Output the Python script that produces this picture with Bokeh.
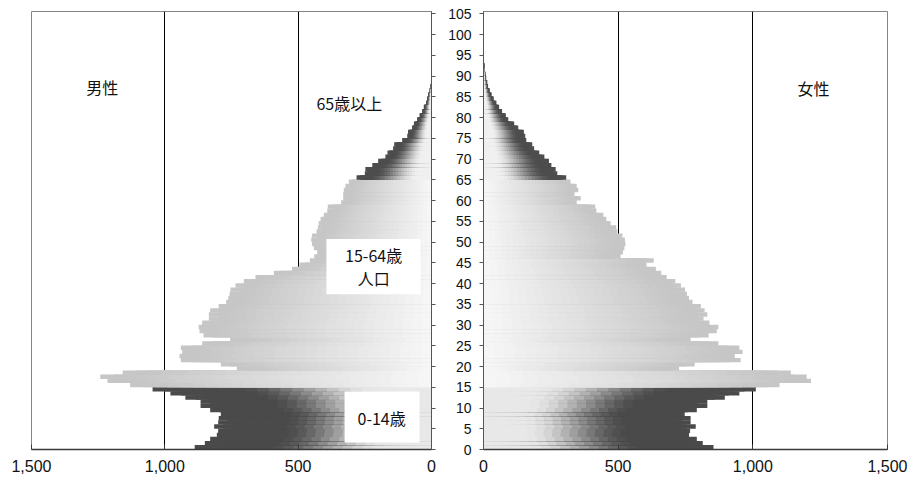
import numpy as np
from bokeh.plotting import figure
from bokeh.models import (Range1d, FixedTicker, NumeralTickFormatter, BoxAnnotation,
                          Label, ColumnDataSource, CustomJSTickFormatter)
from bokeh.layouts import row
from bokeh.embed import file_html
from bokeh.resources import INLINE

# ---------------- data ----------------
ages = list(range(95))

male = [888, 850, 830, 805, 800, 815, 800, 798, 790, 830,
        866, 866, 923, 979, 1046, 1130, 1215, 1242, 1158, 730,
        790, 940, 945, 935, 940, 860, 755, 855, 870, 873,
        860, 835, 835, 830, 798, 770, 762, 757, 754, 735,
        704, 660, 591, 523, 495, 456, 440, 429, 441, 448,
        451, 448, 431, 426, 423, 416, 404, 391, 389, 339,
        331, 331, 329, 323, 310, 281, 250, 248, 222, 200,
        173, 165, 144, 140, 110, 91, 88, 73, 66, 54,
        45, 35, 29, 20, 16, 12, 7, 4, 2, 1,
        1, 0, 0, 0, 0]

female = [854, 814, 792, 763, 767, 788, 769, 769, 747, 792,
          831, 831, 896, 950, 1011, 1099, 1216, 1200, 1141, 726,
          784, 955, 933, 962, 950, 872, 769, 836, 866, 872,
          839, 817, 831, 821, 807, 776, 763, 755, 748, 733,
          712, 680, 660, 640, 605, 632, 509, 518, 523, 527,
          525, 516, 497, 493, 472, 456, 445, 419, 415, 346,
          361, 338, 352, 346, 323, 307, 274, 268, 252, 243,
          226, 207, 188, 181, 159, 155, 150, 129, 114, 92,
          83, 69, 58, 48, 38, 30, 23, 17, 14, 10,
          7, 5, 3, 2, 1]

x_ticks = [0, 500, 1000, 1500]
grid_ticks = [500, 1000]
y_ticks = list(range(0, 106, 5))

CJK = "Noto Sans CJK JP"
NUM = "Liberation Sans"
N_SLICES = 24


def shade(age, t):
    """grey level for relative position t (0 = axis, 1 = bar end)"""
    if age < 15:
        light, dark, t0, t1, smooth = 0.91, 0.29, 0.2, 0.7, True
    elif age < 65:
        light, dark, t0, t1, smooth = 0.965, 0.775, 0.02, 0.92, False
    else:
        light, dark, t0, t1, smooth = 0.94, 0.30, 0.2, 0.84, True
    s = min(max((t - t0) / (t1 - t0), 0.0), 1.0)
    if smooth:
        s = s * s * (3 - 2 * s)
    g = int(round((light + (dark - light) * s) * 255))
    return "#%02x%02x%02x" % (g, g, g)


def gradient_source(values):
    left, right, bottom, top, color = [], [], [], [], []
    for a, v in zip(ages, values):
        if v <= 0:
            continue
        edges = np.linspace(0, v, N_SLICES + 1)
        # cumulative slices, outermost first, so no seams appear
        for i in range(N_SLICES, 0, -1):
            left.append(0.0)
            right.append(float(edges[i]))
            bottom.append(a)
            top.append(a + 1.06)
            color.append(shade(a, (i - 0.5) / N_SLICES))
    return ColumnDataSource(dict(left=left, right=right, bottom=bottom,
                                 top=top, color=color))


def base_fig(x_range, y_side, frame_w, border_left, border_right):
    p = figure(x_range=x_range, y_range=Range1d(0, 105.55),
               frame_width=frame_w, frame_height=438,
               y_axis_location=y_side,
               output_backend="svg", toolbar_location=None,
               min_border_top=11, min_border_bottom=30,
               min_border_left=border_left, min_border_right=border_right,
               background_fill_color="white", border_fill_color="white")
    p.outline_line_color = "#858585"
    p.outline_line_width = 1
    p.xaxis.ticker = FixedTicker(ticks=x_ticks)
    p.xaxis.formatter = NumeralTickFormatter(format="0,0")
    p.xaxis.major_label_text_font = NUM
    p.xaxis.major_label_text_font_size = "16px"
    p.xaxis.major_label_text_color = "#111111"
    p.xaxis.major_label_standoff = 10
    p.xaxis.major_tick_in = 5
    p.xaxis.major_tick_out = 0
    p.xaxis.minor_tick_line_color = None
    p.xaxis.axis_line_color = "#3a3a3a"
    p.xaxis.axis_line_width = 1.5
    p.xaxis.major_tick_line_color = "#3a3a3a"

    p.yaxis.ticker = FixedTicker(ticks=y_ticks)
    p.yaxis.major_tick_out = 4
    p.yaxis.major_tick_in = 0
    p.yaxis.minor_tick_line_color = None
    p.yaxis.axis_line_color = "#555555"
    p.yaxis.major_tick_line_color = "#555555"

    p.xgrid.ticker = FixedTicker(ticks=grid_ticks)
    p.xgrid.grid_line_color = "black"
    p.xgrid.grid_line_width = 1
    p.ygrid.grid_line_color = None
    return p


# ---------------- left (male) ----------------
pl = base_fig(Range1d(1500, 0), "right", 400, 31, 12)
pl.yaxis.formatter = CustomJSTickFormatter(code="return ''")
pl.yaxis.major_label_standoff = 0
pl.quad(left="left", right="right", bottom="bottom", top="top",
        fill_color="color", line_color=None, source=gradient_source(male))

pl.add_layout(Label(x=1235, y=87.3, text="男性", text_font=CJK, text_font_size="16px",
                    text_align="center", text_baseline="middle", text_color="#111111"))
pl.add_layout(Label(x=308, y=83.5, text="65歳以上", text_font=CJK, text_font_size="16px",
                    text_align="center", text_baseline="middle", text_color="#111111"))
pl.add_layout(BoxAnnotation(left=41, right=394, bottom=37.4, top=50.7,
                            fill_color="white", fill_alpha=1, line_color=None))
pl.add_layout(Label(x=217, y=46.8, text="15-64歳", text_font=CJK, text_font_size="16px",
                    text_align="center", text_baseline="middle", text_color="#111111"))
pl.add_layout(Label(x=217, y=41.3, text="人口", text_font=CJK, text_font_size="16px",
                    text_align="center", text_baseline="middle", text_color="#111111"))
pl.add_layout(BoxAnnotation(left=45, right=326, bottom=1.7, top=14.0,
                            fill_color="white", fill_alpha=1, line_color=None))
pl.add_layout(Label(x=187, y=7.6, text="0-14歳", text_font=CJK, text_font_size="16px",
                    text_align="center", text_baseline="middle", text_color="#111111"))

# ---------------- right (female) ----------------
pr = base_fig(Range1d(0, 1500), "left", 404, 40, 21)
pr.yaxis.major_label_text_font = NUM
pr.yaxis.major_label_text_font_size = "14px"
pr.yaxis.major_label_text_color = "#111111"
pr.yaxis.major_label_standoff = 8
pr.quad(left="left", right="right", bottom="bottom", top="top",
        fill_color="color", line_color=None, source=gradient_source(female))
pr.add_layout(Label(x=1225, y=87.0, text="女性", text_font=CJK, text_font_size="16px",
                    text_align="center", text_baseline="middle", text_color="#111111"))

layout = row(pl, pr)
open("out.html", "w").write(file_html(layout, INLINE))
